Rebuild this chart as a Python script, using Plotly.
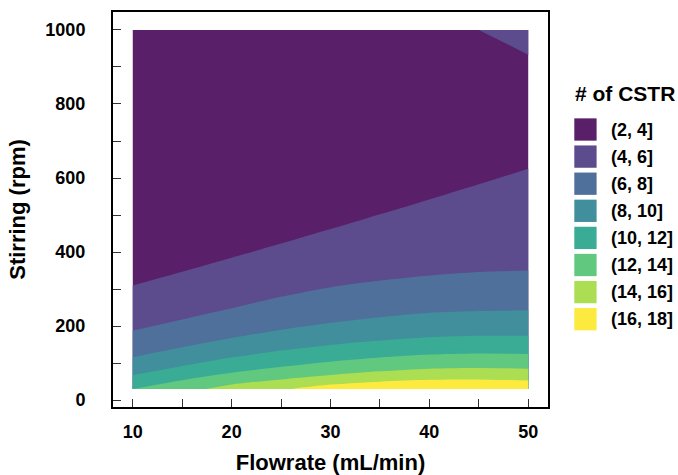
import plotly.graph_objects as go

# ---------------- data ----------------
flowrate = [10, 15, 20, 25, 30, 35, 40, 45, 50]          # mL/min
stirring_min = 30                                          # rpm
stirring_max = 1000                                        # rpm

# contour boundaries (stirring value where # of CSTR crosses the level)
b4 = [310, 347, 385, 423, 462, 502, 542, 583, 625]        # level 4 (lower)
b4_top_x = [45, 50]
b4_top = [1000, 933]                                       # level 4 (upper-right corner)
b6 = [188, 218, 248, 279, 305, 323, 337, 346, 350]
b8 = [116, 143, 168, 190, 209, 224, 236, 241, 243]
b10 = [67, 92, 115, 134, 149, 161, 170, 174, 174]
b12 = [30, 54, 74, 90, 104, 115, 123, 126, 125]
b14_x = [17.4, 20, 25, 30, 35, 40, 45, 50]
b14 = [30, 42, 56, 68, 78, 85, 87, 85]
b16_x = [26, 30, 35, 40, 45, 50]
b16 = [30, 42, 50, 55, 56, 53]

bin_labels = ["(2, 4]", "(4, 6]", "(6, 8]", "(8, 10]",
              "(10, 12]", "(12, 14]", "(14, 16]", "(16, 18]"]

x_tick_values = [10, 15, 20, 25, 30, 35, 40, 45, 50]
x_tick_labels = ["10", "", "20", "", "30", "", "40", "", "50"]
y_tick_values = [0, 100, 200, 300, 400, 500, 600, 700, 800, 900, 1000]
y_tick_labels = ["0", "", "200", "", "400", "", "600", "", "800", "", "1000"]

# ---------------- style ----------------
viridis8 = ["#440154", "#46337E", "#365C8D", "#277F8E",
            "#1FA187", "#4AC16D", "#9FDA3A", "#FDE725"]
ALPHA = 0.88


def blend(hexcol, a=ALPHA):
    h = hexcol.lstrip("#")
    r, g, b = (int(h[i:i + 2], 16) for i in (0, 2, 4))
    r, g, b = (round(c * a + 255 * (1 - a)) for c in (r, g, b))
    return f"rgb({r},{g},{b})"


colors = [blend(c) for c in viridis8]
FONT = "Liberation Sans, Arial, sans-serif"

fig = go.Figure()


def band(xs, upper, color, base):
    # baseline trace then boundary filled down to it (painter's order)
    fig.add_trace(go.Scatter(x=xs, y=[base] * len(xs), mode="lines",
                             line=dict(width=0, color=color),
                             hoverinfo="skip", showlegend=False))
    fig.add_trace(go.Scatter(x=xs, y=upper, mode="lines",
                             line=dict(width=0, color=color, shape="spline", smoothing=0.8),
                             fill="tonexty", fillcolor=color,
                             hoverinfo="skip", showlegend=False))


x_ends = [flowrate[0], flowrate[-1]]
band(x_ends, [stirring_max, stirring_max], colors[0], stirring_min)
band(flowrate, b4, colors[1], stirring_min)
band(b4_top_x, b4_top, colors[1], stirring_max)
band(flowrate, b6, colors[2], stirring_min)
band(flowrate, b8, colors[3], stirring_min)
band(flowrate, b10, colors[4], stirring_min)
band(flowrate, b12, colors[5], stirring_min)
band(b14_x, b14, colors[6], stirring_min)
band(b16_x, b16, colors[7], stirring_min)

# ---------------- layout ----------------
W, H = 678, 475
ML, MT = 113, 12
MR = W - 548
MB = H - 407
PW, PH = W - ML - MR, H - MT - MB


def px2paper_x(px):
    return (px - ML) / PW


def px2paper_y(py):
    return (H - MB - py) / PH


axis_common = dict(
    showgrid=False, zeroline=False, automargin=False,
    showline=True, linecolor="black", linewidth=2, mirror=True,
    ticks="inside", ticklen=8, tickwidth=1, tickcolor="#333333",
    tickfont=dict(family=FONT, size=18, color="black", weight="bold"),
)

fig.update_layout(
    width=W, height=H,
    margin=dict(l=ML, r=MR, t=MT, b=MB),
    paper_bgcolor="white", plot_bgcolor="white",
    showlegend=False,
    xaxis=dict(range=[8, 52], tickmode="array", tickvals=x_tick_values,
               ticktext=x_tick_labels, ticklabelstandoff=7,
               title=dict(text="Flowrate (mL/min)", standoff=30,
                          font=dict(family=FONT, size=22, color="black", weight="bold")),
               **axis_common),
    yaxis=dict(range=[-18.5, 1048.5], tickmode="array", tickvals=y_tick_values,
               ticktext=y_tick_labels, ticklabelstandoff=22,
               title=dict(text="Stirring (rpm)", standoff=14,
                          font=dict(family=FONT, size=22, color="black", weight="bold")),
               **axis_common),
)

# legend (drawn manually to get ggplot-like square keys)
fig.add_annotation(text="# of CSTR", xref="paper", yref="paper",
                   x=px2paper_x(573), y=px2paper_y(93), xanchor="left", yanchor="middle",
                   showarrow=False,
                   font=dict(family=FONT, size=21, color="black", weight="bold"))
key = 22.3
for i, (lab, col) in enumerate(zip(bin_labels, colors)):
    cy = 129.5 + 27.1 * i
    fig.add_shape(type="rect", xref="paper", yref="paper",
                  x0=px2paper_x(574.3), x1=px2paper_x(574.3 + key),
                  y0=px2paper_y(cy + key / 2), y1=px2paper_y(cy - key / 2),
                  fillcolor=col, line=dict(width=0))
    fig.add_annotation(text=lab, xref="paper", yref="paper",
                       x=px2paper_x(609), y=px2paper_y(cy), xanchor="left", yanchor="middle",
                       showarrow=False,
                       font=dict(family=FONT, size=18, color="black", weight="bold"))

fig.write_html(
    "out.html",
    config={"displayModeBar": False},
    post_script="document.body.style.margin='0';document.body.style.overflow='hidden';",
)
